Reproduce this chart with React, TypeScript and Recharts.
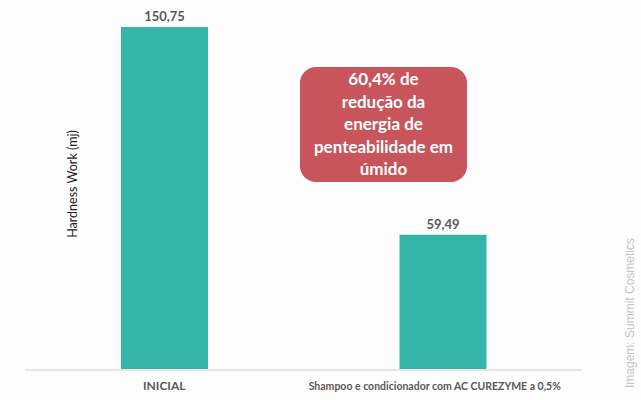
import React from 'react';
import { BarChart, Bar, XAxis, YAxis, LabelList } from 'recharts';

const categories = ['INICIAL', 'Shampoo e condicionador com AC CUREZYME a 0,5%'];
const hardnessWork = [150.75, 59.49];
const annotationLines = ['60,4% de', 'redução da', 'energia de', 'penteabilidade em', 'úmido'];

const data = categories.map((name, i) => ({ name, value: hardnessWork[i] }));

const font = 'Lato, "Open Sans", sans-serif';

// calibri-ish labels are narrow; shrink the long one a bit
const CategoryTick = (props: any) => {
    const { x, y, payload, index } = props;
    const long = payload.value.length > 20;
    return (
        <text
            x={x + (index === 1 ? -8 : 0)}
            y={y + 12}
            textAnchor="middle"
            fill="#595959"
            fontSize={long ? 10.5 : 12}
            fontWeight={700}
            fontFamily={font}
        >
            {payload.value}
        </text>
    );
};

const App: React.FC = () => {
    return (
        <div style={{ position: 'absolute', left: 0, top: 0, width: 641, height: 400, background: '#fdfdfd', fontFamily: font }}>
            <BarChart width={641} height={400} data={data} margin={{ top: 6, right: 59, left: 25, bottom: 0 }}>
                <XAxis
                    dataKey="name"
                    height={30}
                    interval={0}
                    tickLine={false}
                    axisLine={{ stroke: '#e6e6e6', strokeWidth: 2 }}
                    tick={<CategoryTick />}
                />
                <YAxis hide domain={[0, 160]} />
                <Bar dataKey="value" fill="#35b5a8" barSize={87} isAnimationActive={false}>
                    <LabelList
                        dataKey="value"
                        position="top"
                        offset={6}
                        formatter={(v: number) => v.toFixed(2).replace('.', ',')}
                        style={{ fill: '#595959', fontSize: 13, fontWeight: 700, fontFamily: font }}
                    />
                </Bar>
            </BarChart>
            <div style={{ position: 'absolute', left: 72, top: 184, width: 0, height: 0 }}>
                <div style={{
                    position: 'absolute', transform: 'translate(-50%, -50%) rotate(-90deg)',
                    whiteSpace: 'nowrap', fontSize: 12.5, color: '#222',
                }}>Hardness Work (mj)</div>
            </div>
            <div style={{
                position: 'absolute', left: 300, top: 67, width: 167, height: 115,
                background: '#c7555b', borderRadius: 16, color: '#fff', fontWeight: 700,
                fontSize: 17, lineHeight: '22.5px', textAlign: 'center',
                display: 'flex', flexDirection: 'column', justifyContent: 'center',
            }}>
                {annotationLines.map((l) => <div key={l}>{l}</div>)}
            </div>
            <div style={{ position: 'absolute', left: 630, top: 313, width: 0, height: 0 }}>
                <div style={{
                    position: 'absolute', transform: 'translate(-50%, -50%) rotate(-90deg)',
                    whiteSpace: 'nowrap', fontSize: 12, color: '#c4c4c4', fontFamily: '"Liberation Sans", Arial, sans-serif',
                }}>Imagem: Summit Cosmetics</div>
            </div>
        </div>
    );
};

export default App;
